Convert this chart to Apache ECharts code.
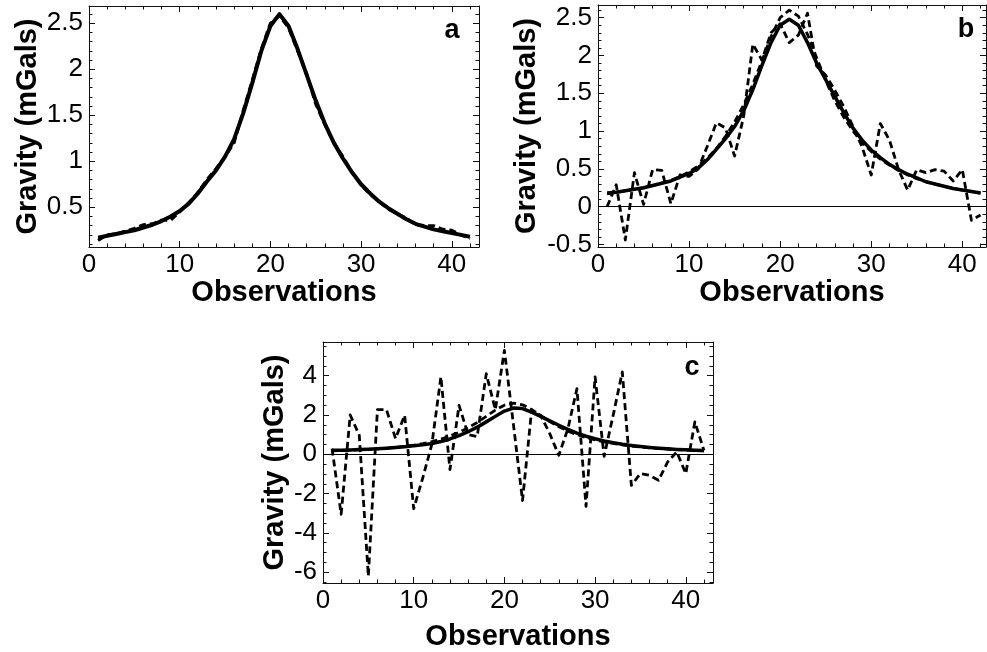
<!DOCTYPE html>
<html>
<head>
<meta charset="utf-8">
<style>
  html, body { margin: 0; padding: 0; background: #fff; }
  #chart { width: 987px; height: 652px; }
</style>
<script src="https://cdn.jsdelivr.net/npm/echarts@6/dist/echarts.min.js"></script>
</head>
<body>
<div id="chart"></div>
<script>
// ---------------- data ----------------
const observations = [1,2,3,4,5,6,7,8,9,10,11,12,13,14,15,16,17,18,19,20,21,22,23,24,25,26,27,28,29,30,31,32,33,34,35,36,37,38,39,40,41,42];

// panel a
const solidA  = [0.17,0.19,0.21,0.23,0.25,0.28,0.31,0.35,0.40,0.46,0.54,0.65,0.78,0.90,1.05,1.24,1.52,1.85,2.20,2.47,2.60,2.47,2.22,1.94,1.66,1.41,1.20,1.03,0.88,0.75,0.65,0.56,0.49,0.43,0.37,0.32,0.29,0.26,0.24,0.22,0.20,0.18];
const dashedA = [0.14,0.20,0.21,0.24,0.27,0.31,0.32,0.36,0.36,0.45,0.55,0.66,0.80,0.92,1.05,1.20,1.55,1.88,2.22,2.50,2.58,2.45,2.20,1.95,1.62,1.40,1.20,1.05,0.88,0.74,0.64,0.56,0.48,0.43,0.38,0.31,0.30,0.30,0.26,0.25,0.20,0.16];

// noise-free anomaly (smooth dashed in b and c)
const trueGravity = [0.17,0.19,0.21,0.23,0.25,0.28,0.31,0.35,0.40,0.46,0.54,0.64,0.77,0.93,1.12,1.35,1.62,1.93,2.25,2.50,2.60,2.52,2.28,1.97,1.67,1.40,1.18,1.00,0.85,0.73,0.63,0.55,0.48,0.42,0.37,0.33,0.30,0.27,0.24,0.22,0.20,0.18];

// panel b
const solidB  = [0.18,0.19,0.21,0.23,0.25,0.28,0.31,0.34,0.39,0.44,0.51,0.62,0.76,0.90,1.06,1.27,1.55,1.87,2.17,2.40,2.48,2.40,2.17,1.90,1.68,1.46,1.24,1.04,0.88,0.75,0.65,0.56,0.49,0.43,0.38,0.33,0.30,0.27,0.24,0.22,0.20,0.18];
const noisyB  = [0.00,0.29,-0.44,0.45,0.03,0.49,0.48,0.04,0.42,0.40,0.50,0.80,1.11,1.04,0.67,1.20,2.15,1.94,2.30,2.42,2.17,2.27,2.56,1.86,1.74,1.54,1.32,1.06,0.79,0.42,1.10,0.88,0.49,0.22,0.49,0.45,0.49,0.47,0.34,0.49,-0.18,-0.11];

// panel c
const solidC  = [0.20,0.21,0.22,0.24,0.26,0.28,0.31,0.34,0.38,0.43,0.48,0.55,0.65,0.78,0.95,1.15,1.38,1.65,1.93,2.20,2.35,2.33,2.15,1.93,1.70,1.48,1.27,1.08,0.92,0.79,0.68,0.59,0.51,0.45,0.40,0.35,0.31,0.28,0.25,0.23,0.21,0.19];
const noisyC  = [0.29,-3.05,2.00,0.97,-6.20,2.27,2.27,0.80,1.98,-2.77,-1.20,0.50,3.94,-0.78,2.49,1.00,0.90,4.10,2.27,5.29,1.50,-2.35,2.24,1.98,1.05,-0.05,1.30,3.34,-2.65,3.94,-0.10,2.00,4.19,-1.58,-0.98,-1.07,-1.32,-0.39,0.12,-0.98,1.65,0.20];

// tick labels
const xTicks  = [0,10,20,30,40];
const yTicksA = [0.5,1,1.5,2,2.5];
const yTicksB = [-0.5,0,0.5,1,1.5,2,2.5];
const yTicksC = [-6,-4,-2,0,2,4];
const panelLabels = ['a','b','c'];
const xTitle = 'Observations';
const yTitle = 'Gravity (mGals)';

// ---------------- helpers ----------------
const FONT = "'Liberation Sans', Arial, Helvetica, sans-serif";
const INK = '#111';

function minorValues(min, max, step, majors) {
  const out = [];
  const s = Math.ceil(min / step - 1e-9), e = Math.floor(max / step + 1e-9);
  for (let k = s; k <= e; k++) {
    const v = +(k * step).toFixed(6);
    if (!majors.some(m => Math.abs(m - v) < 1e-9)) out.push(v);
  }
  return out;
}

function axisSet(dim, gridIndex, min, max, majors, minorStep, name, nameGap, labelMargin) {
  const pos = dim === 'x' ? ['bottom', 'top'] : ['left', 'right'];
  const minors = minorValues(min, max, minorStep, majors);
  const base = { type: 'value', gridIndex, min, max, splitLine: { show: false }, minorTick: { show: false }, silent: true };
  const line = { show: true, onZero: false, lineStyle: { color: INK, width: 1 } };
  const noLine = { show: false, onZero: false };
  const majorTick = { show: true, inside: true, length: 6, customValues: majors, lineStyle: { color: INK, width: 1 } };
  const minorTick = { show: true, inside: true, length: 3.5, customValues: minors, lineStyle: { color: INK, width: 1 } };
  return [
    Object.assign({}, base, {
      position: pos[0], axisLine: line, axisTick: majorTick,
      axisLabel: { show: true, customValues: majors, fontSize: 26, color: '#000', fontFamily: FONT, margin: labelMargin },
      name, nameLocation: 'middle', nameGap,
      nameTextStyle: { fontSize: 29, fontWeight: 'bold', fontFamily: FONT, color: '#000' }
    }),
    Object.assign({}, base, { position: pos[1], axisLine: line, axisTick: majorTick, axisLabel: { show: false } }),
    Object.assign({}, base, { position: pos[0], axisLine: noLine, axisTick: minorTick, axisLabel: { show: false } }),
    Object.assign({}, base, { position: pos[1], axisLine: noLine, axisTick: minorTick, axisLabel: { show: false } })
  ];
}

function pairs(ys) { return observations.map((x, i) => [x, ys[i]]); }

function lineSeries(g, ys, dashed, width, z, zero) {
  const s = {
    type: 'line', xAxisIndex: 4 * g, yAxisIndex: 4 * g, data: pairs(ys),
    showSymbol: false, symbol: 'none', smooth: false, z,
    lineStyle: { color: '#000', width, type: dashed ? [7, 4] : 'solid', cap: 'butt', join: 'round' }
  };
  if (zero) {
    s.markLine = { silent: true, symbol: 'none', label: { show: false }, animation: false,
      lineStyle: { color: '#000', width: 1, type: 'solid' }, data: [{ yAxis: 0 }] };
  }
  return s;
}

// ---------------- option ----------------
const grids = [
  { left: 89,  top: 6,   width: 390, height: 241 },
  { left: 598, top: 5,   width: 388, height: 242 },
  { left: 323, top: 342, width: 390, height: 241 }
];

const xAxes = [].concat(
  axisSet('x', 0, 0, 43, xTicks, 2, xTitle, 31, 5),
  axisSet('x', 1, 0, 42.6, xTicks, 2, xTitle, 31, 5),
  axisSet('x', 2, 0, 43, xTicks, 2, xTitle, 39, 5)
);
const yAxes = [].concat(
  axisSet('y', 0, 0.068, 2.688, yTicksA, 0.1, yTitle, 47, 6),
  axisSet('y', 1, -0.533, 2.668, yTicksB, 0.1, yTitle, 57, 6),
  axisSet('y', 2, -6.55, 5.715, yTicksC, 0.5, yTitle, 34, 6)
);

const series = [
  lineSeries(0, dashedA, true, 3, 2, false),
  lineSeries(0, solidA, false, 4, 3, false),
  lineSeries(1, noisyB, true, 2.8, 2, true),
  lineSeries(1, trueGravity, true, 2.8, 2, false),
  lineSeries(1, solidB, false, 3.5, 3, false),
  lineSeries(2, noisyC, true, 2.8, 2, true),
  lineSeries(2, trueGravity, true, 2.8, 2, false),
  lineSeries(2, solidC, false, 3.5, 3, false)
];

const labelPos = [[452, 31], [966, 30], [692, 368]];
const graphic = panelLabels.map((t, i) => ({
  type: 'text', x: labelPos[i][0], y: labelPos[i][1], silent: true,
  style: { text: t, fontSize: 27, fontWeight: 'bold', fontFamily: FONT, fill: '#000', align: 'center', verticalAlign: 'middle' }
}));

const chart = echarts.init(document.getElementById('chart'), null, { renderer: 'canvas' });
chart.setOption({
  animation: false,
  backgroundColor: '#fff',
  grid: grids,
  xAxis: xAxes,
  yAxis: yAxes,
  series,
  graphic
});
</script>
</body>
</html>
